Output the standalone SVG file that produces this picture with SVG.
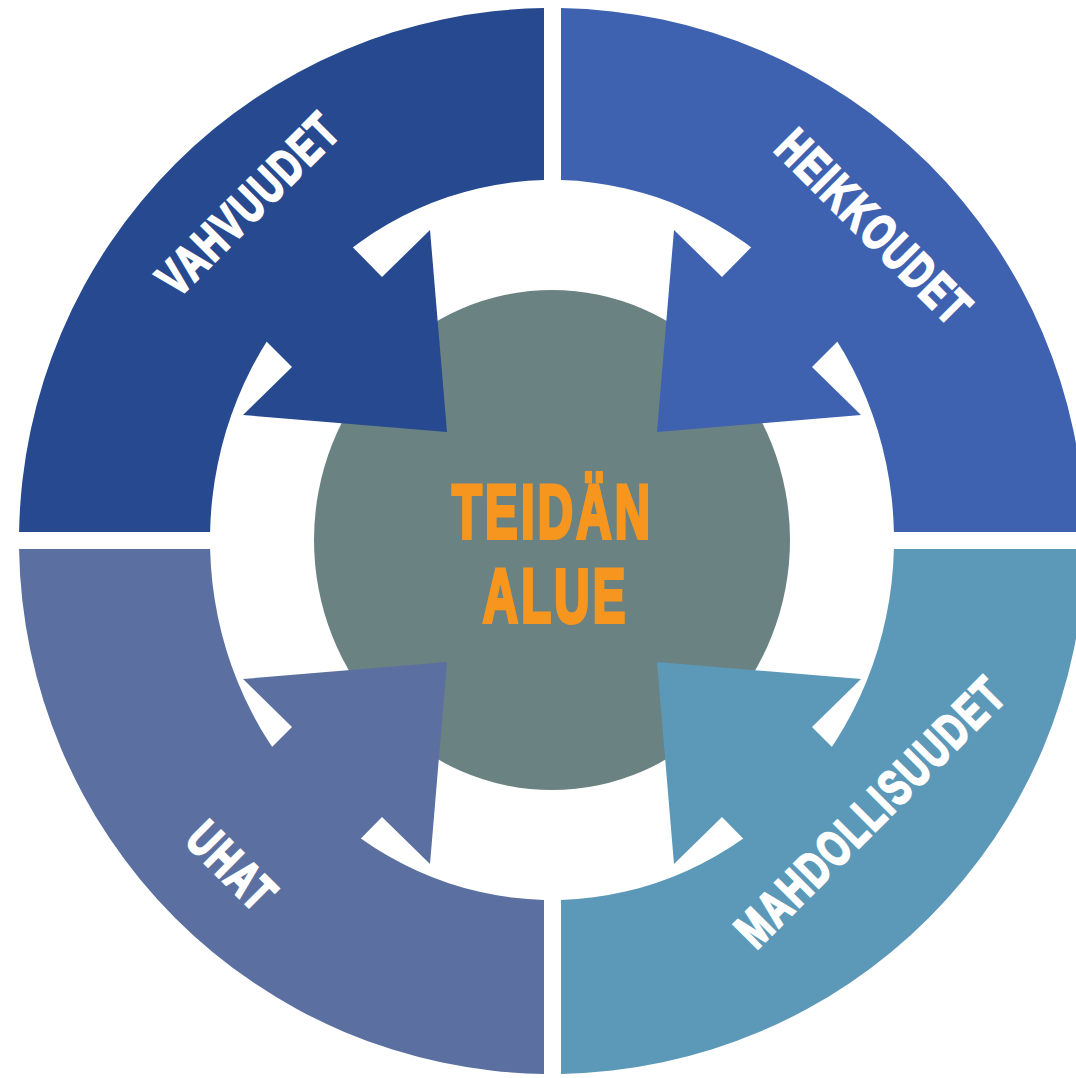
<svg xmlns="http://www.w3.org/2000/svg" width="1076" height="1078" viewBox="0 0 1076 1078">
  <style>
    .lbl { font-family: "Liberation Sans", Arial, sans-serif; font-weight: bold; fill: #ffffff; stroke: #ffffff; stroke-width: 2.5; stroke-linejoin: miter; letter-spacing: 3px; text-anchor: middle; }
    .ctr { font-family: "Liberation Sans", Arial, sans-serif; font-weight: bold; fill: #f7961e; stroke: #f7961e; stroke-width: 4; stroke-linejoin: miter; letter-spacing: 5px; text-anchor: middle; }
  </style>
  <defs>
    <polygon id="arrow" points="328,222 382,277 430,230 447,432 243,415 292,367 242,317"/>
  </defs>
  <rect width="1076" height="1078" fill="#ffffff"/>

  <g id="node-vahvuudet">
    <path d="M19.08,532 A533,533 0 0 1 544,8.06 L544,180.1 A342,360 0 0 0 210.1,532 Z" fill="#27498f"/>
    <text class="lbl" font-size="50" transform="translate(247,204) rotate(-45) scale(0.7,1)" x="1.5" y="18">VAHVUUDET</text>
  </g>
  <g id="node-heikkoudet">
    <path d="M561,8.08 A533,533 0 0 1 1084.92,532 L893.9,532 A342,360 0 0 0 561,180.12 Z" fill="#3e62b0"/>
    <text class="lbl" font-size="50" transform="translate(874,226) rotate(45) scale(0.7,1)" x="1.5" y="18">HEIKKOUDET</text>
  </g>
  <g id="node-uhat">
    <path d="M19.06,549 A533,533 0 0 0 544,1073.94 L544,899.9 A342,360 0 0 1 210.1,549 Z" fill="#5b70a0"/>
    <text class="lbl" font-size="50" transform="translate(232,865) rotate(45) scale(0.7,1)" x="1.5" y="18">UHAT</text>
  </g>
  <g id="node-mahdollisuudet">
    <path d="M561,1073.92 A533,533 0 0 0 1084.92,549 L893.9,549 A342,360 0 0 1 561,899.88 Z" fill="#5c99b8"/>
    <text class="lbl" font-size="50" transform="translate(869,812) rotate(-45) scale(0.7,1)" x="1.5" y="18">MAHDOLLISUUDET</text>
  </g>

  <g id="node-center">
    <ellipse cx="552" cy="540" rx="238" ry="250" fill="#6b8282"/>
  </g>

  <g id="connectors">
    <use href="#arrow" fill="#27498f"/>
    <use href="#arrow" fill="#3e62b0" transform="matrix(-1,0,0,1,1104,0)"/>
    <use href="#arrow" fill="#5b70a0" transform="matrix(1,0,0,-1,0,1094)"/>
    <use href="#arrow" fill="#5c99b8" transform="matrix(-1,0,0,-1,1104,1094)"/>
  </g>

  <g id="center-label">
    <text class="ctr" font-size="76" transform="translate(551,538) scale(0.643,1)" x="2.5">TEIDÄN</text>
    <text class="ctr" font-size="76" transform="translate(554,622) scale(0.643,1)" x="2.5">ALUE</text>
  </g>
</svg>
